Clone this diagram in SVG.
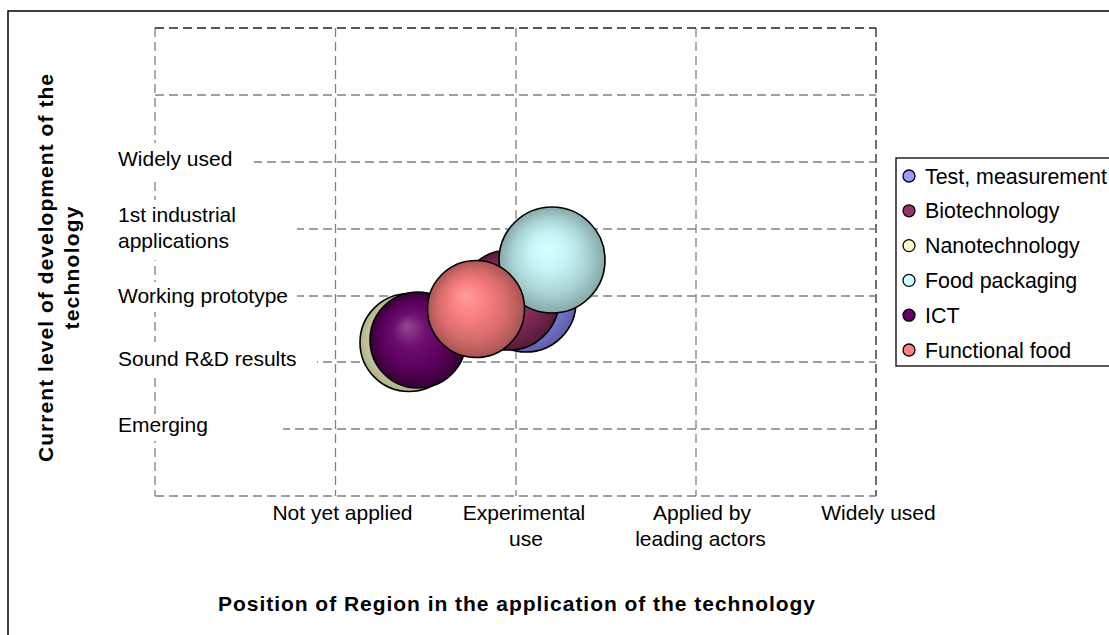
<svg xmlns="http://www.w3.org/2000/svg" width="1109" height="635" viewBox="0 0 1109 635">
<style>
.lbl{font-family:"Liberation Sans",Arial,sans-serif;font-size:21px;fill:#000}
.leg{font-family:"Liberation Sans",Arial,sans-serif;font-size:21.4px;fill:#000}
.ttl{font-family:"Liberation Sans",Arial,sans-serif;font-size:21px;font-weight:bold;fill:#000}
.g{stroke:#808080;stroke-width:1.3;stroke-dasharray:9 5;fill:none}
.gd{stroke:#222;stroke-width:1.3;stroke-dasharray:9 5;fill:none}
.bub{stroke:#000;stroke-width:1.6}
.mk{stroke:#000;stroke-width:1.3}
</style>
<defs>
<radialGradient id="gBlue" cx="0.5" cy="0.5" r="0.5" fx="0.4" fy="0.36"><stop offset="0" stop-color="#A8A8FF"/><stop offset="0.6" stop-color="#8585E0"/><stop offset="1" stop-color="#5E5EAA"/></radialGradient>
<radialGradient id="gBio" cx="0.5" cy="0.5" r="0.5" fx="0.4" fy="0.36"><stop offset="0" stop-color="#A84577"/><stop offset="0.6" stop-color="#882C5A"/><stop offset="1" stop-color="#561A38"/></radialGradient>
<radialGradient id="gNano" cx="0.5" cy="0.5" r="0.5" fx="0.4" fy="0.36"><stop offset="0" stop-color="#FFFFD6"/><stop offset="0.6" stop-color="#D8D8AE"/><stop offset="1" stop-color="#B0B08A"/></radialGradient>
<radialGradient id="gFood" cx="0.5" cy="0.5" r="0.5" fx="0.45" fy="0.38"><stop offset="0" stop-color="#D4FFFF"/><stop offset="0.35" stop-color="#C6F5F5"/><stop offset="0.7" stop-color="#A9D4D4"/><stop offset="1" stop-color="#86A8A8"/></radialGradient>
<radialGradient id="gICT" cx="0.5" cy="0.5" r="0.5" fx="0.38" fy="0.35"><stop offset="0" stop-color="#934893"/><stop offset="0.35" stop-color="#6E0E6E"/><stop offset="0.7" stop-color="#5A005A"/><stop offset="1" stop-color="#360036"/></radialGradient>
<radialGradient id="gFun" cx="0.5" cy="0.5" r="0.5" fx="0.38" fy="0.36"><stop offset="0" stop-color="#FF9E9E"/><stop offset="0.35" stop-color="#FA8080"/><stop offset="0.7" stop-color="#D86C6C"/><stop offset="1" stop-color="#A85454"/></radialGradient>
</defs>
<rect x="0" y="0" width="1109" height="635" fill="#fff"/>
<rect x="8" y="11" width="1200" height="700" fill="none" stroke="#000" stroke-width="1.5"/>

<g id="grid">
<line class="g" x1="155" y1="28" x2="155" y2="496"/>
<line class="g" x1="335.5" y1="28" x2="335.5" y2="496"/>
<line class="g" x1="516" y1="28" x2="516" y2="496"/>
<line class="g" x1="696" y1="28" x2="696" y2="496"/>
<line class="gd" x1="876" y1="28" x2="876" y2="496"/>
<line class="gd" x1="155" y1="28" x2="876" y2="28"/>
<line class="g" x1="155" y1="95" x2="876" y2="95"/>
<line class="g" x1="155" y1="162" x2="876" y2="162"/>
<line class="g" x1="155" y1="229" x2="876" y2="229"/>
<line class="g" x1="155" y1="296" x2="876" y2="296"/>
<line class="g" x1="155" y1="362" x2="876" y2="362"/>
<line class="g" x1="155" y1="429" x2="876" y2="429"/>
<line class="g" x1="155" y1="496" x2="876" y2="496"/>
</g>

<g id="y-axis-labels">
<rect x="110" y="143" width="144" height="36" fill="#fff"/>
<rect x="110" y="200" width="187" height="60" fill="#fff"/>
<rect x="110" y="282" width="187" height="30" fill="#fff"/>
<rect x="110" y="342" width="207" height="32" fill="#fff"/>
<rect x="110" y="414" width="173" height="27" fill="#fff"/>
<text class="lbl" x="118" y="166">Widely used</text>
<text class="lbl" x="118" y="222">1st industrial</text>
<text class="lbl" x="118" y="248">applications</text>
<text class="lbl" x="118" y="303">Working prototype</text>
<text class="lbl" x="118" y="366">Sound R&amp;D results</text>
<text class="lbl" x="118" y="432">Emerging</text>
</g>

<g id="x-axis-labels">
<text class="lbl" x="342.5" y="520" text-anchor="middle">Not yet applied</text>
<text class="lbl" x="524" y="520" text-anchor="middle">Experimental</text>
<text class="lbl" x="526" y="546" text-anchor="middle">use</text>
<text class="lbl" x="702" y="520" text-anchor="middle">Applied by</text>
<text class="lbl" x="700.5" y="546" text-anchor="middle">leading actors</text>
<text class="lbl" x="878.5" y="520" text-anchor="middle">Widely used</text>
</g>

<g id="titles">
<text class="ttl" x="218" y="611" textLength="597" lengthAdjust="spacing">Position of Region in the application of the technology</text>
<text class="ttl" transform="translate(53,268) rotate(-90)" text-anchor="middle" textLength="388" lengthAdjust="spacing">Current level of development of the</text>
<text class="ttl" transform="translate(79,268) rotate(-90)" text-anchor="middle" textLength="123" lengthAdjust="spacing">technology</text>
</g>

<g id="bubble-test-measurement"><circle class="bub" cx="526" cy="302" r="50" fill="url(#gBlue)"/></g>
<g id="bubble-biotechnology"><circle class="bub" cx="509" cy="300" r="50" fill="url(#gBio)"/></g>
<g id="bubble-nanotechnology"><circle class="bub" cx="409" cy="342.5" r="49" fill="url(#gNano)"/></g>
<g id="bubble-food-packaging"><circle class="bub" cx="552" cy="260" r="53" fill="url(#gFood)"/></g>
<g id="bubble-ict"><circle class="bub" cx="418" cy="340" r="48" fill="url(#gICT)"/></g>
<g id="bubble-functional-food"><circle class="bub" cx="476" cy="309" r="48.5" fill="url(#gFun)"/></g>

<g id="legend">
<rect x="896" y="158" width="240" height="208" fill="#fff" stroke="#000" stroke-width="1.3"/>
<circle class="mk" cx="909" cy="176" r="6" fill="#9999FF"/>
<text class="leg" x="925" y="183.5">Test, measurement</text>
<circle class="mk" cx="909" cy="210.8" r="6" fill="#993366"/>
<text class="leg" x="925" y="218.3">Biotechnology</text>
<circle class="mk" cx="909" cy="245.6" r="6" fill="#FFFFCC"/>
<text class="leg" x="925" y="253.1">Nanotechnology</text>
<circle class="mk" cx="909" cy="280.4" r="6" fill="#CCFFFF"/>
<text class="leg" x="925" y="287.9">Food packaging</text>
<circle class="mk" cx="909" cy="315.2" r="6" fill="#660066"/>
<text class="leg" x="925" y="322.7">ICT</text>
<circle class="mk" cx="909" cy="350" r="6" fill="#FF8080"/>
<text class="leg" x="925" y="357.5">Functional food</text>
</g>
</svg>
